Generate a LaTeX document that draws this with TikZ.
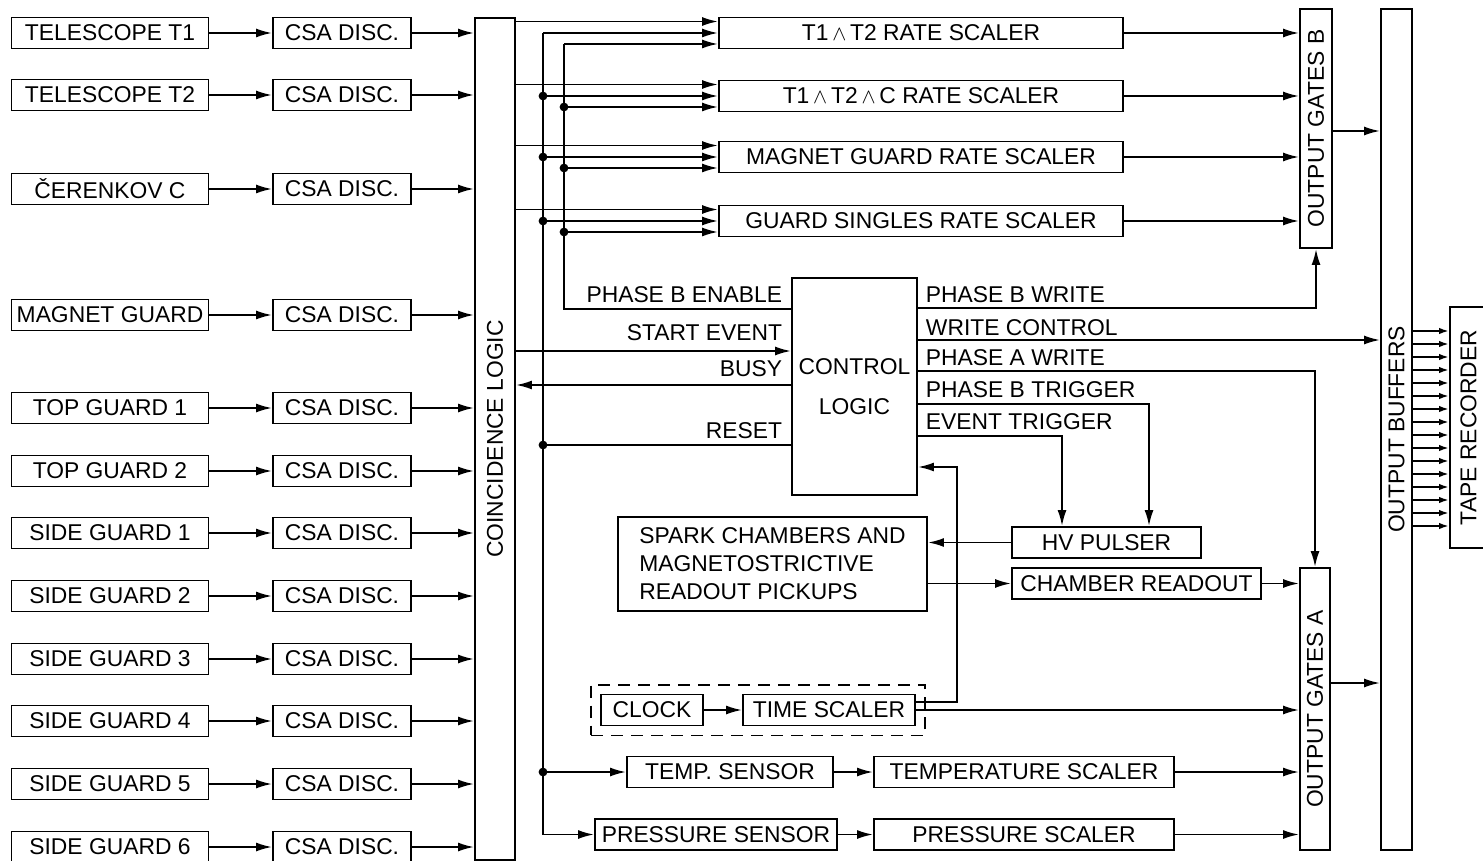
\documentclass[tikz,border=0pt]{standalone}
\usepackage{fontspec}
\setmainfont{Liberation Sans}
\usepackage{graphicx}
\usetikzlibrary{arrows.meta,fit}
\newcommand{\pxu}{0.02cm}

\begin{document}
\begin{tikzpicture}[x=0.02cm, y=-0.02cm, line width=1.1pt,
  font=\fontsize{13pt}{16pt}\selectfont,
  box/.style={draw, inner sep=0pt, minimum height=31*\pxu},
  lbl/.style={inner sep=0pt},
  sig/.style={-{Latex[length=3.2mm,width=1.8mm]}},
  tsig/.style={-{Latex[length=2mm,width=1.3mm]}},
  dot/.style={circle, fill, inner sep=0pt, minimum size=5pt}]
\useasboundingbox (0,0) rectangle (1483,861);

% tall boxes
\node[box, minimum width=40*\pxu, minimum height=842*\pxu] (coin) at (495,439) {\rotatebox{90}{COINCIDENCE LOGIC}};
\node[box, minimum width=32*\pxu, minimum height=239*\pxu] (ogb) at (1316,128.5) {\rotatebox{90}{OUTPUT GATES B}};
\node[box, minimum width=30*\pxu, minimum height=282*\pxu] (oga) at (1315,709) {\rotatebox{90}{OUTPUT GATES A}};
\node[box, minimum width=31*\pxu, minimum height=841*\pxu] (buf) at (1396.5,429.5) {\rotatebox{90}{OUTPUT BUFFERS}};
\node[box, minimum width=37*\pxu, minimum height=241*\pxu] (tape) at (1468.5,427.5) {\rotatebox{90}{TAPE RECORDER}};

% detectors and discriminators
\foreach \n/\y/\t in {1/33/TELESCOPE T1, 2/95/TELESCOPE T2, 3/189/ČERENKOV C,
    4/315/MAGNET GUARD, 5/408/TOP GUARD 1, 6/471/TOP GUARD 2,
    7/533/SIDE GUARD 1, 8/596/SIDE GUARD 2, 9/659/SIDE GUARD 3,
    10/721/SIDE GUARD 4, 11/784/SIDE GUARD 5, 12/847/SIDE GUARD 6}{
  \node[box, minimum width=197*\pxu] (s\n) at (110,\y) {\t};
  \node[box, minimum width=138*\pxu] (d\n) at (342,\y) {CSA DISC.};
  \draw[sig] (s\n) -- (d\n);
  \draw[sig] (d\n) -- (coin.west |- d\n);
}

% rate scalers
\node[box, minimum width=404*\pxu] (r1) at (921,33) {T1\,$\wedge$\,T2 RATE SCALER};
\node[box, minimum width=404*\pxu] (r2) at (921,96) {T1\,$\wedge$\,T2\,$\wedge$\,C RATE SCALER};
\node[box, minimum width=404*\pxu] (r3) at (921,157) {MAGNET GUARD RATE SCALER};
\node[box, minimum width=404*\pxu] (r4) at (921,221) {GUARD SINGLES RATE SCALER};

% control and readout
\node[box, minimum width=125*\pxu, minimum height=217*\pxu, align=center] (ctrl) at (854.5,386.5) {CONTROL\\[6.7pt]LOGIC};
\node[box, minimum width=309*\pxu, minimum height=94*\pxu, align=left] (spark) at (772.5,564) {SPARK CHAMBERS AND\\MAGNETOSTRICTIVE\\READOUT PICKUPS};
\node[box, minimum width=189*\pxu] (hv) at (1106.5,542.5) {HV PULSER};
\node[box, minimum width=249*\pxu] (cr) at (1136.5,583.5) {CHAMBER READOUT};
\node[box, minimum width=102*\pxu] (clk) at (652,710) {CLOCK};
\node[box, minimum width=172*\pxu] (tsc) at (829,710) {TIME SCALER};
\node[draw, dash pattern=on 0.24cm off 0.16cm, fit=(clk)(tsc), inner sep=0.18cm] (grp) {};
\node[box, minimum width=206*\pxu] (tmp) at (730,772) {TEMP. SENSOR};
\node[box, minimum width=300*\pxu] (tmps) at (1024,772) {TEMPERATURE SCALER};
\node[box, minimum width=242*\pxu] (prs) at (716,834.5) {PRESSURE SENSOR};
\node[box, minimum width=300*\pxu] (prss) at (1024,834.5) {PRESSURE SCALER};

% signal names
\node[lbl, anchor=east] (lpe) at (783,295) {PHASE B ENABLE};
\node[lbl, anchor=east] (lse) at (783,333) {START EVENT};
\node[lbl, anchor=east] (lbs) at (783,369) {BUSY};
\node[lbl, anchor=east] (lrs) at (783,431) {RESET};
\node[lbl, anchor=west] (lpbw) at (925,295) {PHASE B WRITE};
\node[lbl, anchor=west] (lwc) at (925,328) {WRITE CONTROL};
\node[lbl, anchor=west] (lpaw) at (925,358) {PHASE A WRITE};
\node[lbl, anchor=west] (lpbt) at (925,390) {PHASE B TRIGGER};
\node[lbl, anchor=west] (let) at (925,422) {EVENT TRIGGER};

% coincidence outputs to scalers
\foreach \r in {r1,r2,r3,r4}{
  \coordinate (\r-a) at ([yshift=0.23cm]\r.west);
  \coordinate (\r-b) at ([yshift=-0.22cm]\r.west);
  \draw[sig] (coin.east |- \r-a) -- (\r-a);
  \draw[sig] (\r.east) -- (ogb.west |- \r.east);
}

% reset bus
\coordinate (rs) at (543,445);
\draw (ctrl.west |- rs) -- (rs) node[dot] (jrs) {};
\draw (rs |- r1.west) -- (rs |- prs.west);
\draw[sig] (rs |- r1.west) -- (r1.west);
\foreach \r in {r2,r3,r4}
  \draw[sig] (rs |- \r.west) node[dot] (ja\r) {} -- (\r.west);
\draw[sig] (rs |- tmp.west) node[dot] (jtmp) {} -- (tmp.west);
\draw[sig] (rs |- prs.west) -- (prs.west);

% phase B enable bus
\coordinate (pe) at (564,309);
\draw (ctrl.west |- pe) -- (pe) -- (pe |- r1-b);
\draw[sig] (pe |- r1-b) -- (r1-b);
\foreach \r in {r2,r3,r4}
  \draw[sig] (pe |- \r-b) node[dot] (jb\r) {} -- (\r-b);

% control logic inputs
\draw[sig] (coin.east |- 0,351) -- (ctrl.west |- 0,351);
\draw[sig] (ctrl.west |- 0,385) -- (coin.east |- 0,385);

% control logic outputs
\draw[sig] (ctrl.east |- 0,308) -| (ogb.south);
\draw[sig] (ctrl.east |- 0,340) -- (buf.west |- 0,340);
\draw[sig] (ctrl.east |- 0,371) -| (oga.north);
\draw[sig] (ctrl.east |- 0,404) -| (hv.north -| 1149,0);
\draw[sig] (ctrl.east |- 0,436) -| (hv.north -| 1062,0);
\coordinate (tr) at (957,467);
\draw[sig] (tsc.east |- 0,702) -| (tr) -- (ctrl.east |- tr);

% readout chain
\draw[sig] (hv.west) -- (spark.east |- hv.west);
\draw[sig] (spark.east |- cr.west) -- (cr.west);
\draw[sig] (cr.east) -- (oga.west |- cr.east);
\draw[sig] (clk) -- (tsc);
\draw[sig] (tsc.east) -- (oga.west |- tsc.east);
\draw[sig] (tmp) -- (tmps);
\draw[sig] (prs) -- (prss);
\draw[sig] (tmps.east) -- (oga.west |- tmps.east);
\draw[sig] (prss.east) -- (oga.west |- prss.east);

% to buffers and tape
\draw[sig] (ogb.east |- 0,131) -- (buf.west |- 0,131);
\draw[sig] (oga.east |- 0,683) -- (buf.west |- 0,683);
\foreach \i in {0,...,15}{
  \coordinate (tp\i) at (0,{331+13*\i});
  \draw[tsig] (buf.east |- tp\i) -- (tape.west |- tp\i);
}
\end{tikzpicture}
\end{document}
